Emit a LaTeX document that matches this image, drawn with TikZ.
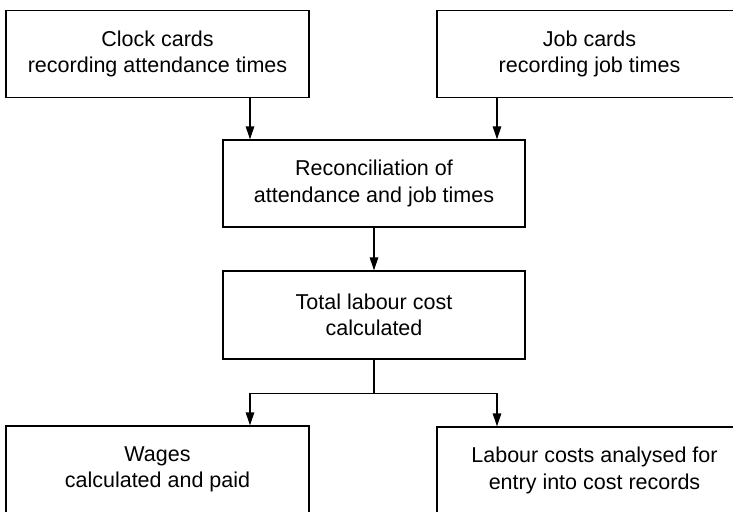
\documentclass[tikz,border=0pt]{standalone}
\usepackage{fontspec}
\setmainfont{Liberation Sans}
\usetikzlibrary{arrows.meta}
\begin{document}
\begin{tikzpicture}[x=1pt,y=1pt,
  box/.style={draw=black, line width=1.3pt, align=center, inner sep=0pt,
    font=\fontsize{21.5}{26.5}\selectfont, minimum height=87pt},
  arr/.style={line width=1.3pt, -{Triangle[length=13pt,width=8.5pt]}},
  lnk/.style={line width=1.3pt}]
\clip (0,0) rectangle (733,-511);
\useasboundingbox (0,0) rectangle (733,-511);
\fill[white] (0,0) rectangle (733,-511);
\coordinate (a1) at (250,0);
\coordinate (a2) at (497,0);
\node[box, minimum width=303pt] (clock) at (157.5,-54) {Clock cards\\recording attendance times};
\node[box, minimum width=305pt] (job) at (589.5,-54) {Job cards\\recording job times};
\node[box, minimum width=302pt] (recon) at (374,-183.5) {Reconciliation of\\attendance and job times};
\node[box, minimum width=302pt, minimum height=88pt] (total) at (374,-315) {Total labour cost\\calculated};
\node[box, minimum width=303pt] (wages) at (157.5,-469.5) {Wages\\calculated and paid};
\node[box, minimum width=315pt] (labour) at (594.5,-470.5) {Labour costs analysed for\\entry into cost records};
\draw[arr] (clock.south -| a1) -- (recon.north -| a1);
\draw[arr] (job.south -| a2) -- (recon.north -| a2);
\draw[arr] (recon.south) -- (total.north);
\draw[lnk] (total.south) -- ++(0,-34) coordinate (split);
\draw[arr] (split) -| (wages.north -| a1);
\draw[arr] (split) -| (labour.north -| a2);
\end{tikzpicture}
\end{document}
